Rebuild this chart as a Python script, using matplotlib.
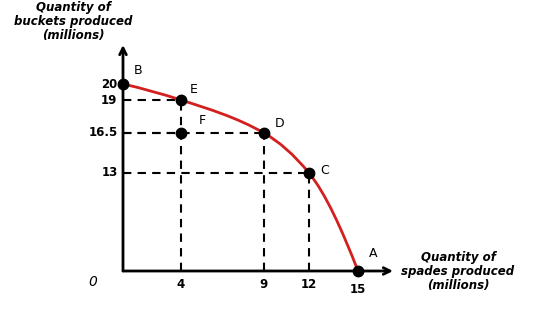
import numpy as np
import matplotlib
matplotlib.use("Agg")
import matplotlib.pyplot as plt
from matplotlib.path import Path
from matplotlib.patches import PathPatch

# Production possibilities: spades (x) vs buckets (y), millions
point_names = ["B", "E", "D", "C", "A"]
spades = [0, 4, 9, 12, 15]
buckets = [20, 19, 16.5, 13, 0]
inner_name = "F"
inner_point = (4, 16.5)
x_tick_vals = [4, 9, 12, 15]
x_tick_labels = ["4", "9", "12", "15"]
y_tick_vals = [20, 19, 16.5, 13]
y_tick_labels = ["20", "19", "16.5", "13"]


def piecewise_scale(knots, spans):
    """Piecewise-linear axis scale (schematic spacing between tick values)."""
    knots = np.asarray(knots, float)
    spans = np.asarray(spans, float)

    def fwd(v):
        return np.interp(np.asarray(v, float), knots, spans)

    def inv(p):
        return np.interp(np.asarray(p, float), spans, knots)

    return fwd, inv


def pchip_slopes(x, y):
    """Shape-preserving (Fritsch-Carlson / PCHIP) node slopes."""
    h = np.diff(x)
    d = np.diff(y) / h
    m = np.zeros_like(x)
    for k in range(1, len(x) - 1):
        if d[k - 1] * d[k] <= 0:
            m[k] = 0.0
        else:
            w1 = 2 * h[k] + h[k - 1]
            w2 = h[k] + 2 * h[k - 1]
            m[k] = (w1 + w2) / (w1 / d[k - 1] + w2 / d[k])
    m[0] = ((2 * h[0] + h[1]) * d[0] - h[0] * d[1]) / (h[0] + h[1])
    m[-1] = ((2 * h[-1] + h[-2]) * d[-1] - h[-1] * d[-2]) / (h[-1] + h[-2])
    return m


fx, ix = piecewise_scale([-10, 0, 4, 9, 12, 15, 40],
                         [-156, 0, 58, 141, 186, 235, 625])
fy, iy = piecewise_scale([-10, 0, 13, 16.5, 19, 20, 40],
                         [-75, 0, 98, 138, 171, 187, 507])

fig = plt.figure(figsize=(5.6, 3.28), dpi=100)
ax = fig.add_axes([123 / 560, 57 / 328, 270 / 560, 226 / 328])
ax.set_xscale("function", functions=(fx, ix))
ax.set_yscale("function", functions=(fy, iy))
ax.set_xlim(0, float(ix(270)))
ax.set_ylim(0, float(iy(226)))
for s in ax.spines.values():
    s.set_visible(False)
ax.set_xticks([])
ax.set_yticks([])

# Axes with open arrowheads
ax.annotate("", xy=(1, 0), xytext=(0, 0), xycoords="axes fraction",
            arrowprops=dict(arrowstyle="->", lw=2, color="black",
                            shrinkA=0, shrinkB=0, mutation_scale=12))
ax.annotate("", xy=(0, 1), xytext=(0, 0), xycoords="axes fraction",
            arrowprops=dict(arrowstyle="->", lw=2, color="black",
                            shrinkA=0, shrinkB=0, mutation_scale=12))

# Dashed guide lines
dash = dict(color="black", lw=1.5, ls=(0, (4, 3)), zorder=2)
for xv, yv in zip(spades[1:4], buckets[1:4]):
    ax.plot([0, xv], [yv, yv], **dash)
    ax.plot([xv, xv], [0, yv], **dash)
ax.plot([0, inner_point[0]], [inner_point[1], inner_point[1]], **dash)

# Smooth frontier: cubic Hermite (PCHIP) in scaled space, drawn as Beziers
px = fx(spades)
py = fy(buckets)
m = pchip_slopes(px, py)
verts = [(px[0], py[0])]
codes = [Path.MOVETO]
for k in range(len(px) - 1):
    h = px[k + 1] - px[k]
    verts += [(px[k] + h / 3, py[k] + m[k] * h / 3),
              (px[k + 1] - h / 3, py[k + 1] - m[k + 1] * h / 3),
              (px[k + 1], py[k + 1])]
    codes += [Path.CURVE4] * 3
verts = np.array(verts)
data_verts = np.column_stack([ix(verts[:, 0]), iy(verts[:, 1])])
ax.add_patch(PathPatch(Path(data_verts, codes), fill=False,
                       edgecolor="#d41f1f", lw=2, zorder=3,
                       capstyle="round"))

# Points
ax.plot(spades, buckets, "o", color="black", ms=7.5, zorder=4, clip_on=False)
ax.plot([inner_point[0]], [inner_point[1]], "o", color="black", ms=7.5,
        zorder=4, clip_on=False)

# Point letters
letter_offsets = {"B": (8, 5), "E": (6, 3), "D": (8, 2), "C": (8, -3),
                  "A": (8, 8)}
for name, xv, yv in zip(point_names, spades, buckets):
    dx, dy = letter_offsets[name]
    ax.annotate(name, (xv, yv), xytext=(dx, dy), textcoords="offset points",
                fontsize=9, ha="left", va="bottom", color="black")
ax.annotate(inner_name, inner_point, xytext=(13, 4), textcoords="offset points",
            fontsize=9, ha="left", va="bottom", color="black")

# Tick labels
for yv, lab in zip(y_tick_vals, y_tick_labels):
    ax.annotate(lab, (0, yv), xytext=(-4, 0), textcoords="offset points",
                ha="right", va="center", fontsize=8.5, fontweight="bold",
                annotation_clip=False)
for xv, lab in zip(x_tick_vals, x_tick_labels):
    off = -13 if lab == "15" else -10
    ax.annotate(lab, (xv, 0), xytext=(0, off), textcoords="offset points",
                ha="center", va="center", fontsize=8.5, fontweight="bold",
                annotation_clip=False)
ax.annotate("0", (0, 0), xytext=(-22, -8), textcoords="offset points",
            ha="center", va="center", fontsize=10, style="italic",
            annotation_clip=False)

# Axis titles
fig.text(73 / 560, 1 - 22 / 328, "Quantity of\nbuckets produced\n(millions)",
         ha="center", va="center", fontsize=8.5, fontweight="bold",
         style="italic", linespacing=1.1)
fig.text(458 / 560, 1 - 271 / 328, "Quantity of\nspades produced\n(millions)",
         ha="center", va="center", fontsize=8.5, fontweight="bold",
         style="italic", linespacing=1.1)

fig.savefig("out.png", dpi=100, facecolor="white")
